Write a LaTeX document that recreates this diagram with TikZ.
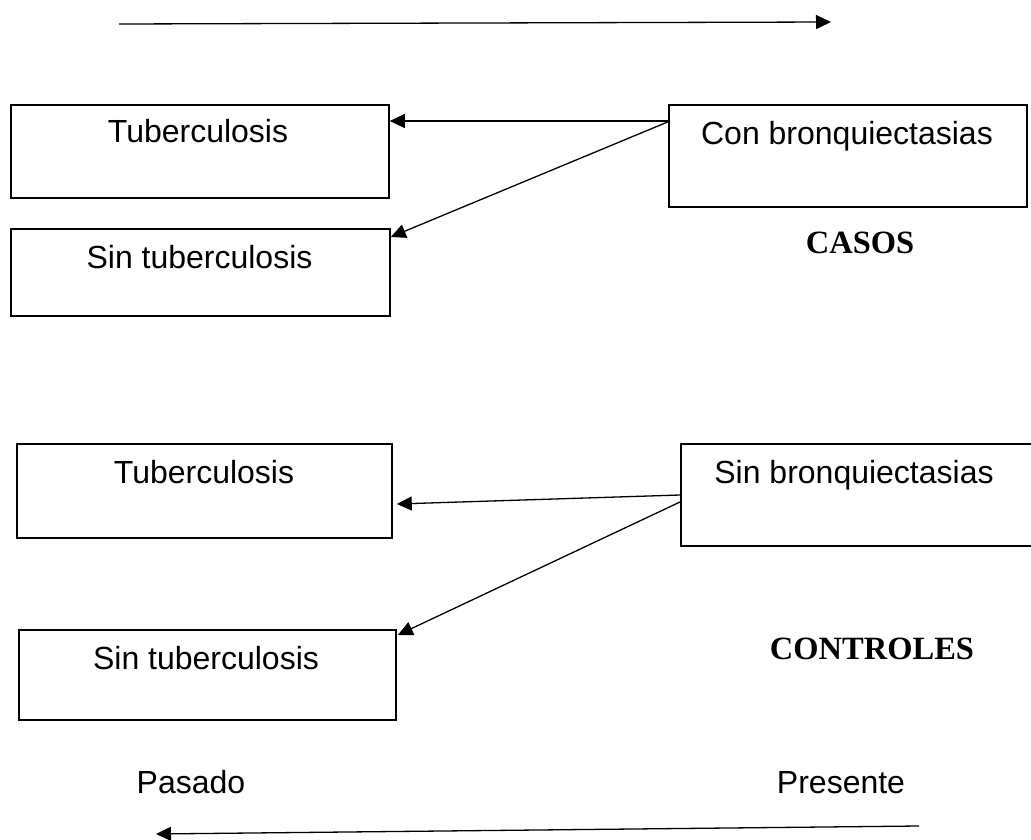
\documentclass[tikz,border=0pt]{standalone}
\usepackage{fontspec}
\setmainfont{Liberation Sans}
\newfontfamily\serifbold{Liberation Serif}
\usetikzlibrary{arrows.meta,calc}
\begin{document}
\begin{tikzpicture}[x=1pt,y=-1pt,
  boxstyle/.style={draw,line width=1.8pt,rectangle,inner sep=0pt,anchor=north west},
  lbl/.style={anchor=base,inner sep=0pt,font=\fontsize{32}{38}\selectfont},
  title/.style={anchor=base,inner sep=0pt,font=\fontsize{32.5}{38}\serifbold\bfseries},
  conn/.style={line width=1.3pt,-{Triangle[length=15pt,width=14pt]}}]
\useasboundingbox (0,0) rectangle (1031,840);
\clip (0,0) rectangle (1031,840);
% top timeline arrow
\coordinate (tA) at (119,24);
\coordinate (tB) at (831,22);
\draw[conn] (tA) -- (tB);
% CASOS group
\node[boxstyle,minimum width=378pt,minimum height=93pt] (tb1) at (10,104) {};
\node[boxstyle,minimum width=358pt,minimum height=102pt] (cb) at (668,104) {};
\node[boxstyle,minimum width=379pt,minimum height=87pt] (st1) at (10,228) {};
\node[lbl] (tb1t) at (198,143) {Tuberculosis};
\node[lbl] (cbt) at (847,145) {Con bronquiectasias};
\node[lbl] (st1t) at (199.5,268) {Sin tuberculosis};
\node[title] (casos) at (860,253) {CASOS};
\coordinate (cbA) at ($(cb.north west)+(2,17)$);
\draw[conn] (cbA) -- (tb1.east |- cbA);
\draw[conn] (cbA) -- ($(st1.north east)+(0,9)$);
% CONTROLES group
\node[boxstyle,minimum width=375pt,minimum height=94pt] (tb2) at (16,443) {};
\node[boxstyle,minimum width=370pt,minimum height=102pt] (sb) at (680,443) {};
\node[boxstyle,minimum width=377pt,minimum height=90pt] (st2) at (18,629) {};
\node[lbl] (tb2t) at (204,483) {Tuberculosis};
\node[lbl] (sbt) at (854,483) {Sin bronquiectasias};
\node[lbl] (st2t) at (206,669) {Sin tuberculosis};
\node[title] (controles) at (872,659) {CONTROLES};
\coordinate (sbA) at ($(sb.north west)+(0,52)$);
\coordinate (sbB) at ($(sb.north west)+(0,59)$);
\draw[conn] (sbA) -- ($(tb2.north east)+(4,61)$);
\draw[conn] (sbB) -- ($(st2.north east)+(1,6)$);
% bottom labels and arrow
\node[lbl] (pasado) at (191,793) {Pasado};
\node[lbl] (presente) at (841,793) {Presente};
\coordinate (bA) at (919,826);
\coordinate (bB) at (156,834);
\draw[conn] (bA) -- (bB);
\end{tikzpicture}
\end{document}
